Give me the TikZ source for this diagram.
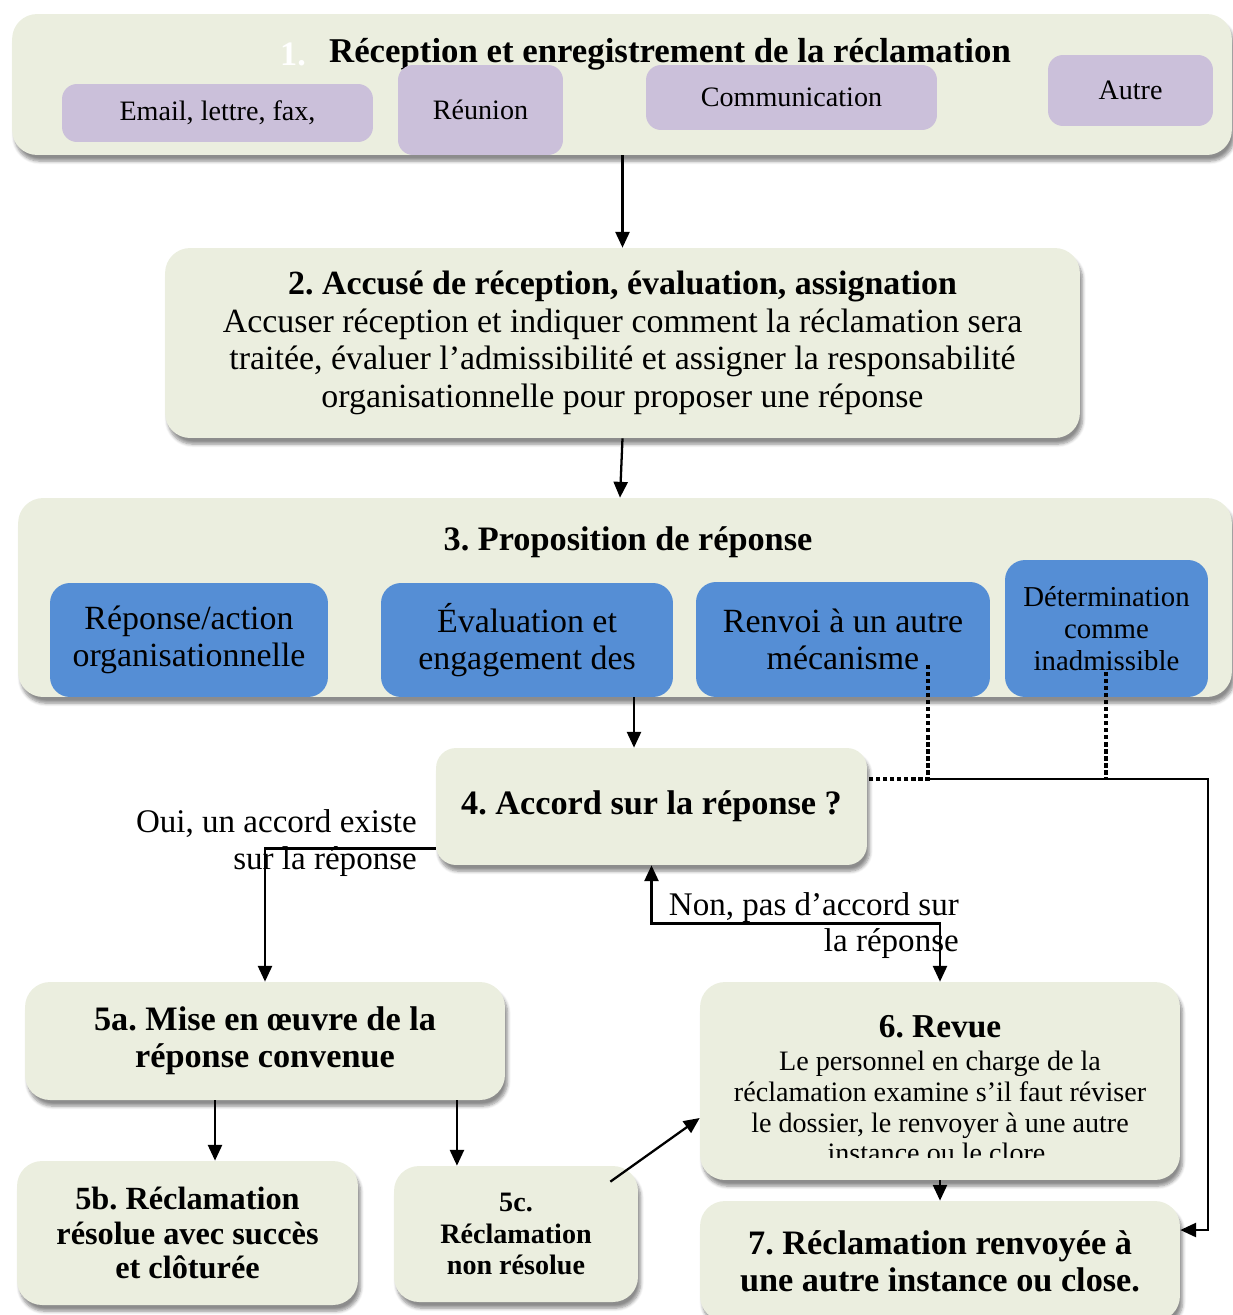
\documentclass[tikz,border=0pt]{standalone}
\usepackage{fontspec}
\setmainfont{Liberation Serif}
\frenchspacing
\usetikzlibrary{
    arrows.meta,
    shadows.blur,
    calc
}
\definecolor{paleGreen}{HTML}{EBEEDF}
\definecolor{paleViolet}{HTML}{CBC0DA}
\definecolor{midBlue}{HTML}{558ED5}
\tikzset{
    stage/.style={rounded corners=0.5cm, fill=paleGreen,
        blur shadow={shadow xshift=1.5pt, shadow yshift=-3.5pt, shadow blur steps=6, shadow opacity=45}},
    channel/.style={rounded corners=0.3cm, fill=paleViolet, font=\fontsize{16}{18}\selectfont},
    option/.style={rounded corners=0.4cm, fill=midBlue, align=center, font=\fontsize{19.3}{21}\selectfont},
    heading/.style={font=\bfseries\fontsize{19.5}{21}\selectfont, align=center},
    flow/.style={line width=1.3pt, ->},
    dots/.style={line width=2.4pt, dash pattern=on 2.4pt off 1.6pt},
    >={Triangle[length=9pt,width=8pt]}
}
\begin{document}
\begin{tikzpicture}[x=0.02cm, y=-0.02cm]
    \useasboundingbox (0,0) rectangle (1233,1315);
    % 1. reception
    \node[stage, minimum width=24.4cm, minimum height=2.82cm] (rec) at (622,84.5) {};
    \node[heading, text=white] (recNum) at (293,54) {1.};
    \node[heading, font=\bfseries\fontsize{19.8}{21}\selectfont] (recTitle) at (670,54) {Réception et enregistrement de la réclamation};
    \node[channel, minimum width=6.22cm, minimum height=1.16cm] (email) at (217.5,113) {Email, lettre, fax,};
    \node[channel, minimum width=3.3cm, minimum height=1.8cm] (meeting) at (480.5,110) {Réunion};
    \node[channel, minimum width=5.82cm, minimum height=1.3cm] (comm) at (791.5,97.5) {Communication};
    \node[channel, minimum width=3.3cm, minimum height=1.42cm] (other) at (1130.5,90.5) {Autre};
    % 2. acknowledgement
    \node[stage, minimum width=18.3cm, minimum height=3.8cm, align=center,
        font=\fontsize{19.3}{21.3}\selectfont] (ack) at (622.5,343)
        {\textbf{2. Accusé de réception, évaluation, assignation}\\
        Accuser réception et indiquer comment la réclamation sera\\
        traitée, évaluer l’admissibilité et assigner la responsabilité\\
        organisationnelle pour proposer une réponse};
    % 3. proposal
    \node[stage, minimum width=24.28cm, minimum height=3.98cm] (prop) at (625,597.5) {};
    \node[heading] (propTitle) at (628,542) {3. Proposition de réponse};
    \node[option, minimum width=5.56cm, minimum height=2.28cm] (orgResp) at (189,640) {Réponse/action\\organisationnelle};
    \node[option, minimum width=5.84cm, minimum height=2.28cm] (evalEng) at (527,640) {Évaluation et\\engagement des};
    \node[option, minimum width=5.88cm, minimum height=2.3cm] (redirect) at (843,639.5) {Renvoi à un autre\\mécanisme};
    \node[option, minimum width=4.06cm, minimum height=2.74cm,
        font=\fontsize{16.4}{18.2}\selectfont] (inadm) at (1106.5,628.5) {Détermination\\comme\\inadmissible};
    % 4. agreement
    \node[stage, heading, rounded corners=0.4cm, minimum width=8.62cm, minimum height=2.34cm] (accord) at (651.5,806.5) {4. Accord sur la réponse ?};
    \node[anchor=east, align=right, font=\fontsize{18.8}{21.5}\selectfont] (yesLbl) at (423,843) {Oui, un accord existe\\sur la réponse};
    \node[anchor=east, align=right, font=\fontsize{18.8}{20.5}\selectfont] (noLbl) at (965,926) {Non, pas d’accord sur\\la réponse};
    % 5. outcomes
    \node[stage, heading, minimum width=9.6cm, minimum height=2.36cm] (impl) at (265,1041) {5a. Mise en œuvre de la\\réponse convenue};
    \node[stage, heading, font=\bfseries\fontsize{18.4}{19.8}\selectfont, minimum width=6.82cm, minimum height=2.88cm] (solved) at (187.5,1233) {5b. Réclamation\\résolue avec succès\\et clôturée};
    \node[stage, heading, font=\bfseries\fontsize{16}{18}\selectfont, minimum width=4.88cm, minimum height=2.72cm] (unres) at (516,1234) {5c.\\Réclamation\\non résolue};
    % 6. review
    \node[stage, minimum width=9.6cm, minimum height=3.96cm] (review) at (940,1081) {};
    \node[heading, font=\bfseries\fontsize{19}{21}\selectfont] (reviewTitle) at (940,1027) {6. Revue};
    \begin{scope}
        \clip (700,1000) rectangle (1180,1157);
        \node[align=center, font=\fontsize{16}{17.6}\selectfont] (reviewText) at (940,1107)
            {Le personnel en charge de la\\réclamation examine s’il faut réviser\\le dossier, le renvoyer à une autre\\instance ou le clore.};
    \end{scope}
    % 7. referral
    \node[stage, heading, minimum width=9.6cm, minimum height=2.4cm] (refer) at (940,1261) {7. Réclamation renvoyée à\\une autre instance ou close.};

    % connectors
    \coordinate (tipFour) at ([xshift=-0.35cm]accord.north);
    \coordinate (dotA) at (928,665);
    \coordinate (dotB) at (1106,672);
    \coordinate (joint) at (928,779);
    \coordinate (rightBend) at (1208,779);
    \coordinate (refIn) at ([yshift=0.62cm]refer.east);
    \coordinate (yesOut) at ([yshift=-0.84cm]accord.west);
    \coordinate (noMid) at ($(accord.south)!0.5!(review.north)$);
    \coordinate (implL) at ([xshift=-1cm]impl.south);
    \coordinate (implR) at ([xshift=3.84cm]impl.south);
    \draw[flow] (rec.south -| ack.north) -- (ack.north);
    \draw[flow] (ack.south) -- ([xshift=-0.1cm]prop.north);
    \draw[flow] (tipFour |- prop.south) -- (tipFour);
    \draw[dots] (dotA) -- (joint) -- (joint -| accord.east);
    \draw[dots] (dotB) -- (dotB |- joint);
    \draw[flow] (joint) -- (rightBend) -- (rightBend |- refIn) -- (refIn);
    \draw[flow] (yesOut) -| (impl.north);
    \draw[flow, <->] (accord.south) |- (noMid) -| (review.north);
    \draw[flow] (implL) -- (implL |- solved.north);
    \draw[flow] (implR) -- (implR |- unres.north);
    \draw[flow] ([xshift=-0.56cm,yshift=-0.32cm]unres.north east) -- ([yshift=-0.74cm]review.west);
    \draw[flow] (review.south) -- (refer.north);
\end{tikzpicture}
\end{document}
